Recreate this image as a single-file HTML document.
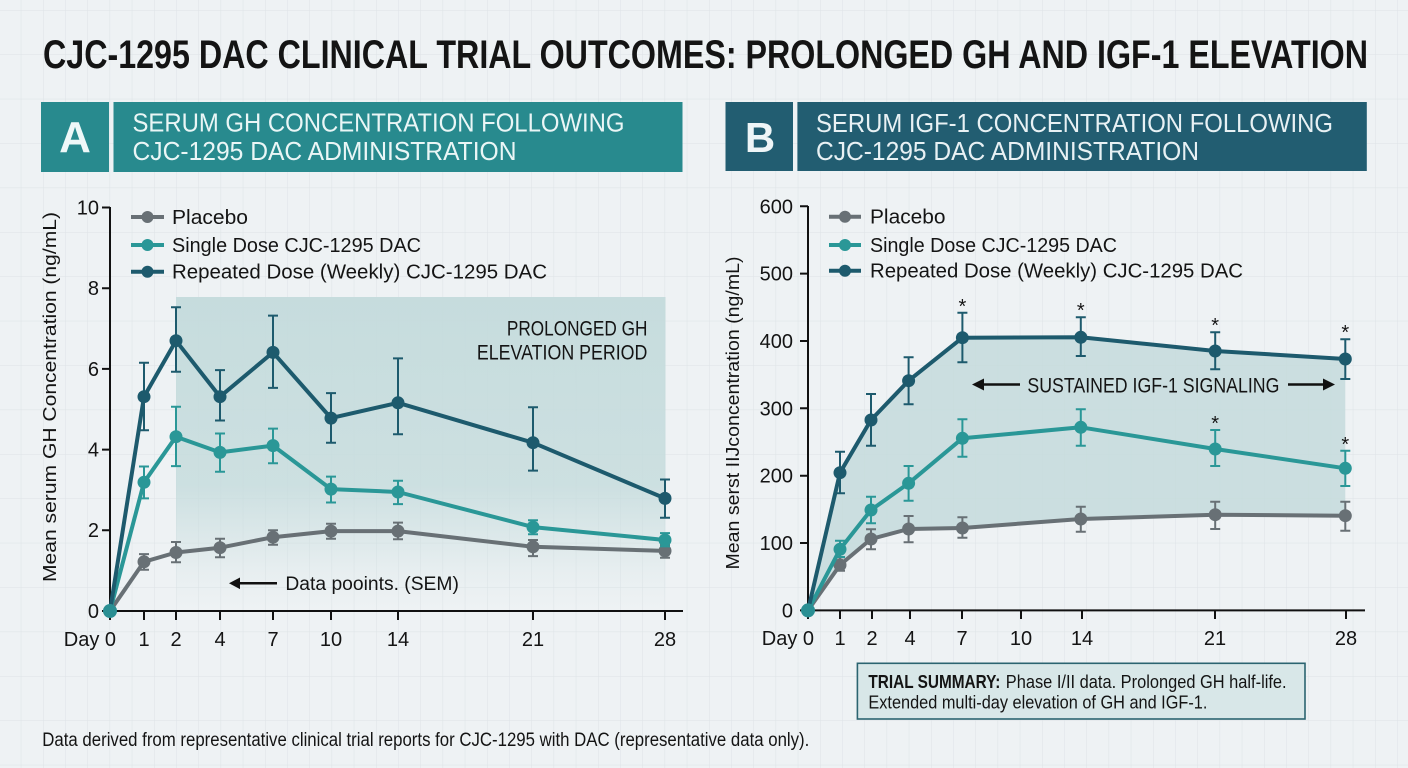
<!DOCTYPE html>
<html><head><meta charset="utf-8">
<style>
html,body{margin:0;padding:0;background:#eef2f4;}
svg{display:block;}
text{font-family:"Liberation Sans Narrow","Liberation Sans",sans-serif;}
</style></head>
<body>
<svg width="1408" height="768" viewBox="0 0 1408 768" xmlns="http://www.w3.org/2000/svg">
<defs>
  <pattern id="grid" x="43" y="10" width="22.2" height="44.4" patternUnits="userSpaceOnUse">
    <path d="M0 0 V44.4 M0 0 H22.2" stroke="#dde3e6" stroke-width="1" fill="none"/>
  </pattern>
  <linearGradient id="shA" x1="0" y1="0" x2="0" y2="1">
    <stop offset="0" stop-color="#c4dbdc" stop-opacity="0.95"/>
    <stop offset="0.6" stop-color="#c4dbdc" stop-opacity="0.8"/>
    <stop offset="0.88" stop-color="#c4dbdc" stop-opacity="0.15"/>
    <stop offset="1" stop-color="#c4dbdc" stop-opacity="0"/>
  </linearGradient>
</defs>
<rect width="1408" height="768" fill="#eef2f4"/>
<rect width="1408" height="768" fill="url(#grid)"/>

<!-- Title -->
<text x="43" y="68" font-size="40" font-weight="bold" fill="#141414" textLength="1325" lengthAdjust="spacingAndGlyphs">CJC-1295 DAC CLINICAL TRIAL OUTCOMES: PROLONGED GH AND IGF-1 ELEVATION</text>

<!-- Header A -->
<rect x="41" y="102" width="68" height="70" fill="#288a8e"/>
<rect x="113.5" y="102" width="569" height="70" fill="#288a8e"/>
<text x="75" y="152" font-size="44" font-weight="bold" fill="#eef8f8" text-anchor="middle">A</text>
<text x="132.5" y="131.7" font-size="25.5" fill="#eaf6f6" textLength="492" lengthAdjust="spacingAndGlyphs">SERUM GH CONCENTRATION FOLLOWING</text>
<text x="132.5" y="160" font-size="25.5" fill="#eaf6f6" textLength="384" lengthAdjust="spacingAndGlyphs">CJC-1295 DAC ADMINISTRATION</text>

<!-- Header B -->
<rect x="725.5" y="102" width="67.5" height="69" fill="#225d71"/>
<rect x="797.4" y="102" width="569.4" height="69" fill="#225d71"/>
<text x="760" y="152" font-size="42" font-weight="bold" fill="#eef5f7" text-anchor="middle">B</text>
<text x="816" y="132" font-size="25.5" fill="#e8f1f4" textLength="517" lengthAdjust="spacingAndGlyphs">SERUM IGF-1 CONCENTRATION FOLLOWING</text>
<text x="816" y="160" font-size="25.5" fill="#e8f1f4" textLength="383" lengthAdjust="spacingAndGlyphs">CJC-1295 DAC ADMINISTRATION</text>

<!-- ================= PANEL A ================= -->
<rect x="176" y="297" width="489.5" height="314" fill="url(#shA)"/>

<!-- axes -->
<g stroke="#111" stroke-width="2" fill="none">
  <path d="M110 207 V611 H683"/>
  <path d="M102 207.5 H110 M102 288.2 H110 M102 368.9 H110 M102 449.6 H110 M102 530.3 H110 M102 611 H110"/>
  <path d="M110 611 V620 M144 611 V620 M176 611 V620 M220 611 V620 M273 611 V620 M331 611 V620 M398 611 V620 M533 611 V620 M665 611 V620"/>
</g>
<g font-size="20" fill="#141414" text-anchor="end">
  <text x="99" y="618">0</text>
  <text x="99" y="537">2</text>
  <text x="99" y="456.5">4</text>
  <text x="99" y="376">6</text>
  <text x="99" y="295">8</text>
  <text x="99" y="214.5">10</text>
</g>
<g font-size="20" fill="#141414" text-anchor="middle">
  <text x="116" y="646" text-anchor="end">Day 0</text>
  <text x="144" y="646">1</text>
  <text x="176" y="646">2</text>
  <text x="220" y="646">4</text>
  <text x="273" y="646">7</text>
  <text x="331" y="646">10</text>
  <text x="398" y="646">14</text>
  <text x="533" y="646">21</text>
  <text x="665" y="646">28</text>
</g>
<text transform="translate(56,397) rotate(-90)" font-size="18" fill="#141414" text-anchor="middle" textLength="370" lengthAdjust="spacingAndGlyphs">Mean serum GH Concentration (ng/mL)</text>

<!-- annotation -->
<text x="647.4" y="335.7" font-size="21" fill="#141414" text-anchor="end" textLength="140.5" lengthAdjust="spacingAndGlyphs">PROLONGED GH</text>
<text x="647.4" y="359.3" font-size="21" fill="#141414" text-anchor="end" textLength="170.5" lengthAdjust="spacingAndGlyphs">ELEVATION PERIOD</text>
<path d="M277 583.3 H238" stroke="#111" stroke-width="2.5"/>
<path d="M229 583.3 L240 577.5 L240 589.1 Z" fill="#111"/>
<text x="285.4" y="590" font-size="19" fill="#141414" textLength="173.5" lengthAdjust="spacingAndGlyphs">Data pooints. (SEM)</text>

<!-- placebo A -->
<g stroke="#687075" fill="#687075">
  <polyline fill="none" stroke-width="4" stroke-linejoin="round" points="110,611 144,561.8 176,552.5 220,547.7 273,537.2 331,531.1 398,531.1 533,546.8 665,550.9"/>
  <g stroke-width="2">
    <path d="M144 554.1 V569.8 M139 554.1 H149 M139 569.8 H149"/>
    <path d="M176 542 V562.2 M171 542 H181 M171 562.2 H181"/>
    <path d="M220 538.8 V557.3 M215 538.8 H225 M215 557.3 H225"/>
    <path d="M273 530.3 V544.8 M268 530.3 H278 M268 544.8 H278"/>
    <path d="M331 523.8 V538.8 M326 523.8 H336 M326 538.8 H336"/>
    <path d="M398 522.6 V539.2 M393 522.6 H403 M393 539.2 H403"/>
    <path d="M533 540 V556.1 M528 540 H538 M528 556.1 H538"/>
    <path d="M665 544.8 V557.7 M660 544.8 H670 M660 557.7 H670"/>
  </g>
  <g stroke="none">
    <circle cx="144" cy="561.8" r="6.5"/><circle cx="176" cy="552.5" r="6.5"/><circle cx="220" cy="547.7" r="6.5"/><circle cx="273" cy="537.2" r="6.5"/><circle cx="331" cy="531.1" r="6.5"/><circle cx="398" cy="531.1" r="6.5"/><circle cx="533" cy="546.8" r="6.5"/><circle cx="665" cy="550.9" r="6.5"/>
  </g>
</g>
<!-- single A -->
<g stroke="#2a9797" fill="#2a9797">
  <polyline fill="none" stroke-width="4" stroke-linejoin="round" points="110,611 144,482.3 176,436.7 220,452.4 273,445.6 331,489.1 398,492 533,527.1 665,540"/>
  <g stroke-width="2">
    <path d="M144 466.5 V498.4 M139 466.5 H149 M139 498.4 H149"/>
    <path d="M176 406.8 V466.1 M171 406.8 H181 M171 466.1 H181"/>
    <path d="M220 433.5 V471.8 M215 433.5 H225 M215 471.8 H225"/>
    <path d="M273 428.6 V463.3 M268 428.6 H278 M268 463.3 H278"/>
    <path d="M331 476.6 V502.5 M326 476.6 H336 M326 502.5 H336"/>
    <path d="M398 480.7 V504.1 M393 480.7 H403 M393 504.1 H403"/>
    <path d="M533 520.2 V534.3 M528 520.2 H538 M528 534.3 H538"/>
    <path d="M665 533.1 V546.4 M660 533.1 H670 M660 546.4 H670"/>
  </g>
  <g stroke="none">
    <circle cx="144" cy="482.3" r="6.5"/><circle cx="176" cy="436.7" r="6.5"/><circle cx="220" cy="452.4" r="6.5"/><circle cx="273" cy="445.6" r="6.5"/><circle cx="331" cy="489.1" r="6.5"/><circle cx="398" cy="492" r="6.5"/><circle cx="533" cy="527.1" r="6.5"/><circle cx="665" cy="540" r="6.5"/>
  </g>
</g>
<!-- repeated A -->
<g stroke="#1d5a6d" fill="#1d5a6d">
  <polyline fill="none" stroke-width="4" stroke-linejoin="round" points="110,611 144,396.7 176,340.7 220,396.7 273,352.4 331,418.1 398,402.8 533,442.7 665,498.4"/>
  <g stroke-width="2">
    <path d="M144 362.8 V430.2 M139 362.8 H149 M139 430.2 H149"/>
    <path d="M176 307.2 V371.7 M171 307.2 H181 M171 371.7 H181"/>
    <path d="M220 370.1 V420.5 M215 370.1 H225 M215 420.5 H225"/>
    <path d="M273 315.6 V387.9 M268 315.6 H278 M268 387.9 H278"/>
    <path d="M331 393.1 V442.7 M326 393.1 H336 M326 442.7 H336"/>
    <path d="M398 358.4 V434.3 M393 358.4 H403 M393 434.3 H403"/>
    <path d="M533 407.2 V470.6 M528 407.2 H538 M528 470.6 H538"/>
    <path d="M665 479.5 V517.8 M660 479.5 H670 M660 517.8 H670"/>
  </g>
  <g stroke="none">
    <circle cx="144" cy="396.7" r="6.5"/><circle cx="176" cy="340.7" r="6.5"/><circle cx="220" cy="396.7" r="6.5"/><circle cx="273" cy="352.4" r="6.5"/><circle cx="331" cy="418.1" r="6.5"/><circle cx="398" cy="402.8" r="6.5"/><circle cx="533" cy="442.7" r="6.5"/><circle cx="665" cy="498.4" r="6.5"/>
  </g>
</g>
<circle cx="110" cy="611" r="7" fill="#2a8f93"/>

<!-- legend A -->
<g stroke-width="4">
  <path d="M131 217 H164" stroke="#687075"/><circle cx="147.5" cy="217" r="6" fill="#687075"/>
  <path d="M131 245 H164" stroke="#2a9797"/><circle cx="147.5" cy="245" r="6" fill="#2a9797"/>
  <path d="M131 271.7 H164" stroke="#1d5a6d"/><circle cx="147.5" cy="271.7" r="6" fill="#1d5a6d"/>
</g>
<g font-size="20" fill="#141414">
  <text x="172" y="224" textLength="76" lengthAdjust="spacingAndGlyphs">Placebo</text>
  <text x="172" y="252" textLength="249" lengthAdjust="spacingAndGlyphs">Single Dose CJC-1295 DAC</text>
  <text x="172" y="278.7" textLength="375" lengthAdjust="spacingAndGlyphs">Repeated Dose (Weekly) CJC-1295 DAC</text>
</g>

<!-- ================= PANEL B ================= -->
<polygon fill="#c4dbdc" fill-opacity="0.85" points="808,610.4 840,472.7 871,420 908.6,380.7 962.4,337.7 1080.8,337.3 1215.2,351 1345.3,359 1345.3,515.7 1215.2,514.7 1080.8,519 962.4,528 908.6,529 871,539 840,565"/>

<g stroke="#111" stroke-width="2" fill="none">
  <path d="M808 206 V610.4 H1365"/>
  <path d="M800 206.3 H808 M800 273.6 H808 M800 341 H808 M800 408.3 H808 M800 475.7 H808 M800 543 H808 M800 610.4 H808"/>
  <path d="M808 610 V619 M840 610 V619 M872 610 V619 M910 610 V619 M962 610 V619 M1021 610 V619 M1082 610 V619 M1215 610 V619 M1346 610 V619"/>
</g>
<g font-size="20" fill="#141414" text-anchor="end">
  <text x="793" y="617.4">0</text>
  <text x="793" y="550">100</text>
  <text x="793" y="482.7">200</text>
  <text x="793" y="415.3">300</text>
  <text x="793" y="348">400</text>
  <text x="793" y="280.6">500</text>
  <text x="793" y="213.3">600</text>
</g>
<g font-size="20" fill="#141414" text-anchor="middle">
  <text x="814" y="645" text-anchor="end">Day 0</text>
  <text x="840" y="645">1</text>
  <text x="872" y="645">2</text>
  <text x="910" y="645">4</text>
  <text x="962" y="645">7</text>
  <text x="1021" y="645">10</text>
  <text x="1082" y="645">14</text>
  <text x="1215" y="645">21</text>
  <text x="1346" y="645">28</text>
</g>
<text transform="translate(739,413) rotate(-90)" font-size="18" fill="#141414" text-anchor="middle" textLength="313" lengthAdjust="spacingAndGlyphs">Mean serst IIJconcentration (ng/mL)</text>

<!-- sustained annotation -->
<path d="M1020 384.5 H982" stroke="#111" stroke-width="2.5"/>
<path d="M972 384.5 L984 378.5 L984 390.5 Z" fill="#111"/>
<text x="1027.4" y="392.7" font-size="21" fill="#141414" textLength="252" lengthAdjust="spacingAndGlyphs">SUSTAINED IGF-1 SIGNALING</text>
<path d="M1288 384.5 H1325" stroke="#111" stroke-width="2.5"/>
<path d="M1335 384.5 L1323 378.5 L1323 390.5 Z" fill="#111"/>

<!-- placebo B -->
<g stroke="#687075" fill="#687075">
  <polyline fill="none" stroke-width="4" stroke-linejoin="round" points="808,610.4 840,565 871,539 908.6,529 962.4,528 1080.8,519 1215.2,514.7 1345.3,515.7"/>
  <g stroke-width="2">
    <path d="M840 557.3 V570.7 M835 557.3 H845 M835 570.7 H845"/>
    <path d="M871 529.3 V549.3 M866 529.3 H876 M866 549.3 H876"/>
    <path d="M908.6 516 V542.3 M903.6 516 H913.6 M903.6 542.3 H913.6"/>
    <path d="M962.4 517.3 V537.7 M957.4 517.3 H967.4 M957.4 537.7 H967.4"/>
    <path d="M1080.8 506.7 V531.7 M1075.8 506.7 H1085.8 M1075.8 531.7 H1085.8"/>
    <path d="M1215.2 501.7 V529 M1210.2 501.7 H1220.2 M1210.2 529 H1220.2"/>
    <path d="M1345.3 501.7 V530.7 M1340.3 501.7 H1350.3 M1340.3 530.7 H1350.3"/>
  </g>
  <g stroke="none">
    <circle cx="840" cy="565" r="6.5"/><circle cx="871" cy="539" r="6.5"/><circle cx="908.6" cy="529" r="6.5"/><circle cx="962.4" cy="528" r="6.5"/><circle cx="1080.8" cy="519" r="6.5"/><circle cx="1215.2" cy="514.7" r="6.5"/><circle cx="1345.3" cy="515.7" r="6.5"/>
  </g>
</g>
<!-- single B -->
<g stroke="#2a9797" fill="#2a9797">
  <polyline fill="none" stroke-width="4" stroke-linejoin="round" points="808,610.4 840,549.3 871,510 908.6,483.3 962.4,438.3 1080.8,427.3 1215.2,449 1345.3,468.3"/>
  <g stroke-width="2">
    <path d="M840 540.7 V557 M835 540.7 H845 M835 557 H845"/>
    <path d="M871 496.7 V523.3 M866 496.7 H876 M866 523.3 H876"/>
    <path d="M908.6 466 V500.7 M903.6 466 H913.6 M903.6 500.7 H913.6"/>
    <path d="M962.4 419.3 V456.7 M957.4 419.3 H967.4 M957.4 456.7 H967.4"/>
    <path d="M1080.8 409.3 V445.7 M1075.8 409.3 H1085.8 M1075.8 445.7 H1085.8"/>
    <path d="M1215.2 430 V466 M1210.2 430 H1220.2 M1210.2 466 H1220.2"/>
    <path d="M1345.3 450.7 V486 M1340.3 450.7 H1350.3 M1340.3 486 H1350.3"/>
  </g>
  <g stroke="none">
    <circle cx="840" cy="549.3" r="6.5"/><circle cx="871" cy="510" r="6.5"/><circle cx="908.6" cy="483.3" r="6.5"/><circle cx="962.4" cy="438.3" r="6.5"/><circle cx="1080.8" cy="427.3" r="6.5"/><circle cx="1215.2" cy="449" r="6.5"/><circle cx="1345.3" cy="468.3" r="6.5"/>
  </g>
</g>
<!-- repeated B -->
<g stroke="#1d5a6d" fill="#1d5a6d">
  <polyline fill="none" stroke-width="4" stroke-linejoin="round" points="808,610.4 840,472.7 871,420 908.6,380.7 962.4,337.7 1080.8,337.3 1215.2,351 1345.3,359"/>
  <g stroke-width="2">
    <path d="M840 451.7 V493.3 M835 451.7 H845 M835 493.3 H845"/>
    <path d="M871 394 V445.7 M866 394 H876 M866 445.7 H876"/>
    <path d="M908.6 357.3 V404.3 M903.6 357.3 H913.6 M903.6 404.3 H913.6"/>
    <path d="M962.4 312.7 V362.3 M957.4 312.7 H967.4 M957.4 362.3 H967.4"/>
    <path d="M1080.8 317.3 V356 M1075.8 317.3 H1085.8 M1075.8 356 H1085.8"/>
    <path d="M1215.2 332.3 V369.3 M1210.2 332.3 H1220.2 M1210.2 369.3 H1220.2"/>
    <path d="M1345.3 339.3 V379 M1340.3 339.3 H1350.3 M1340.3 379 H1350.3"/>
  </g>
  <g stroke="none">
    <circle cx="840" cy="472.7" r="6.5"/><circle cx="871" cy="420" r="6.5"/><circle cx="908.6" cy="380.7" r="6.5"/><circle cx="962.4" cy="337.7" r="6.5"/><circle cx="1080.8" cy="337.3" r="6.5"/><circle cx="1215.2" cy="351" r="6.5"/><circle cx="1345.3" cy="359" r="6.5"/>
  </g>
</g>
<circle cx="808" cy="610.4" r="7" fill="#2a8f93"/>

<!-- asterisks -->
<g font-size="20" fill="#141414" text-anchor="middle">
  <text x="962.4" y="313">*</text>
  <text x="1080.8" y="317">*</text>
  <text x="1215.2" y="332">*</text>
  <text x="1345.3" y="339">*</text>
  <text x="1215.2" y="430">*</text>
  <text x="1345.3" y="451">*</text>
</g>

<!-- legend B -->
<g stroke-width="4">
  <path d="M829 216.7 H861" stroke="#687075"/><circle cx="845" cy="216.7" r="6" fill="#687075"/>
  <path d="M829 245 H861" stroke="#2a9797"/><circle cx="845" cy="245" r="6" fill="#2a9797"/>
  <path d="M829 270.7 H861" stroke="#1d5a6d"/><circle cx="845" cy="270.7" r="6" fill="#1d5a6d"/>
</g>
<g font-size="20" fill="#141414">
  <text x="870" y="223.7" textLength="75.5" lengthAdjust="spacingAndGlyphs">Placebo</text>
  <text x="870" y="252" textLength="247" lengthAdjust="spacingAndGlyphs">Single Dose CJC-1295 DAC</text>
  <text x="870" y="277.7" textLength="373" lengthAdjust="spacingAndGlyphs">Repeated Dose (Weekly) CJC-1295 DAC</text>
</g>

<!-- trial summary -->
<rect x="857.4" y="663.3" width="447.6" height="55.7" fill="#d8e7e8" stroke="#2b6470" stroke-width="1.6"/>
<text x="868.4" y="688" font-size="18" font-weight="bold" fill="#141414" textLength="132" lengthAdjust="spacingAndGlyphs">TRIAL SUMMARY:</text>
<text x="1005.8" y="688" font-size="18" fill="#141414" textLength="280.8" lengthAdjust="spacingAndGlyphs">Phase I/II data. Prolonged GH half-life.</text>
<text x="868.4" y="708.3" font-size="18" fill="#141414" textLength="339" lengthAdjust="spacingAndGlyphs">Extended multi-day elevation of GH and IGF-1.</text>

<!-- footer -->
<text x="42.3" y="746" font-size="19" fill="#141414" textLength="767" lengthAdjust="spacingAndGlyphs">Data derived from representative clinical trial reports for CJC-1295 with DAC (representative data only).</text>
</svg>
</body></html>
